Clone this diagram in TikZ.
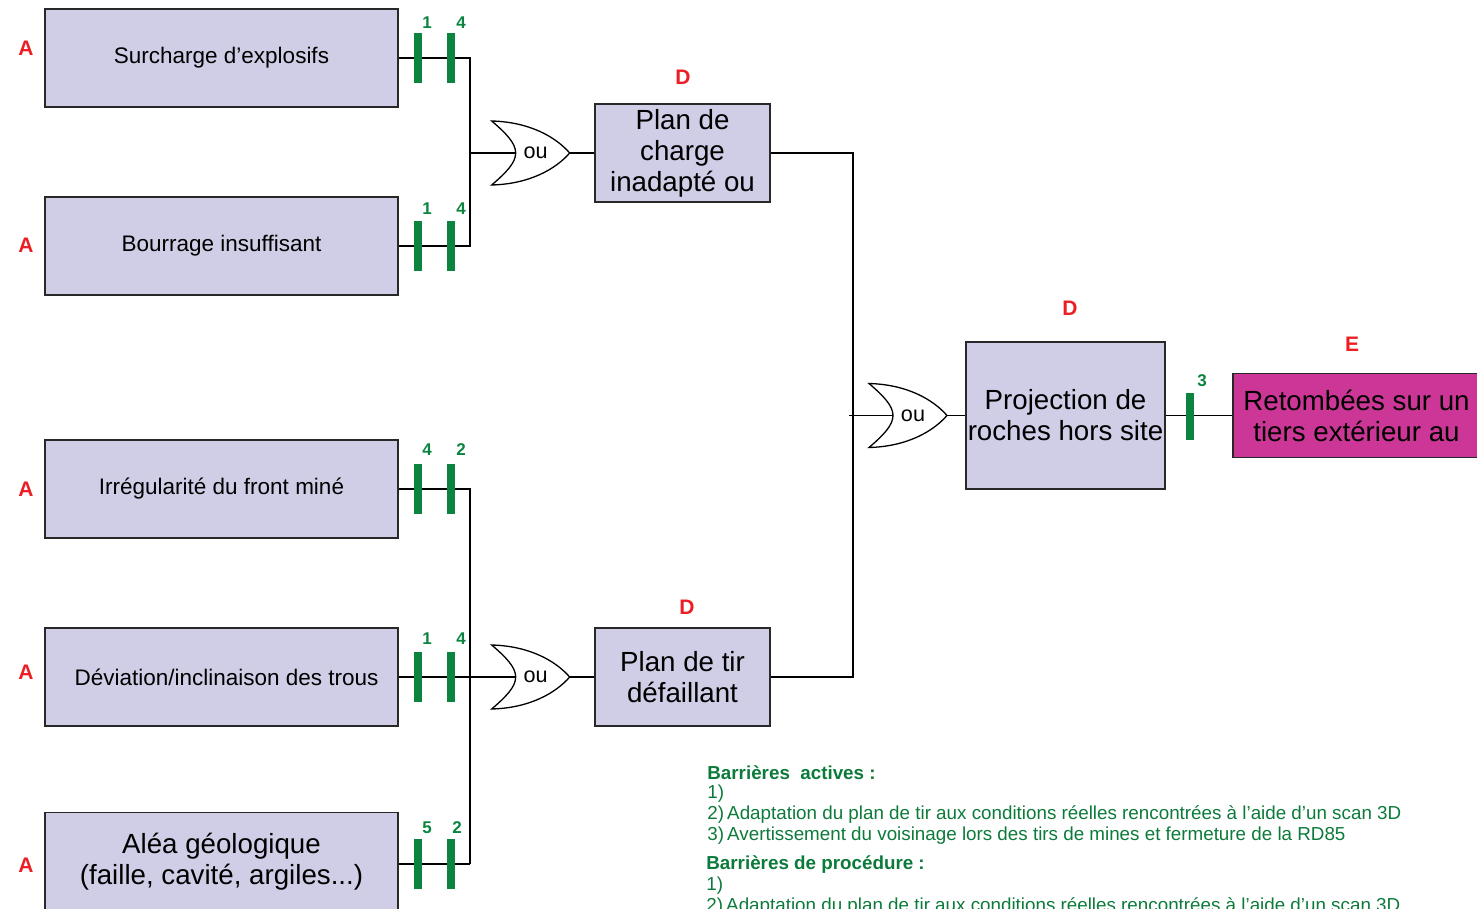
\documentclass[tikz,border=0pt]{standalone}
\usepackage{fontspec}
\setmainfont{Liberation Sans}
\definecolor{lav}{RGB}{208,206,230}
\definecolor{bgreen}{RGB}{10,132,62}
\definecolor{tgreen}{RGB}{12,122,58}
\definecolor{lred}{RGB}{236,30,36}
\definecolor{mag}{RGB}{204,54,150}
\definecolor{edge}{RGB}{40,40,40}
\newcommand\orgate[3]{%
  \draw[gateline] (#2,#3-32) .. controls (#2+14,#3-20) and (#2+24,#3-10) .. (#2+24,#3)
     .. controls (#2+24,#3+10) and (#2+14,#3+20) .. (#2,#3+32)
     .. controls (#2+38,#3+31) and (#2+64,#3+16) .. (#2+78,#3)
     .. controls (#2+64,#3-16) and (#2+38,#3-31) .. cycle;
  \coordinate (#1in) at (#2+24,#3);
  \coordinate (#1out) at (#2+78,#3);
  \node[gtext] (#1) at (#2+44,#3) {ou};}
\tikzset{
  x=0.5pt, y=-0.5pt,
  conn/.style={line width=0.65pt, black},
  gateline/.style={line width=0.65pt, black, fill=white},
  gtext/.style={inner sep=0pt, font=\fontsize{10.8}{12}\selectfont},
  cause/.style={draw=edge, fill=lav, line width=0.75pt, inner sep=0pt,
     minimum width=176.5pt, minimum height=49pt, align=center,
     font=\fontsize{11.25}{13}\selectfont},
  bigtext/.style={font=\fontsize{13.85}{15.5}\selectfont},
  event/.style={draw=edge, fill=lav, line width=0.75pt, inner sep=0pt,
     align=center, font=\fontsize{13.85}{15.5}\selectfont},
  final/.style={draw=edge, fill=mag, line width=0.75pt, inner sep=0pt,
     align=center, font=\fontsize{13.85}{15.5}\selectfont},
  barrier/.style={fill=bgreen, draw=none, minimum width=4pt, minimum height=25pt, inner sep=0pt},
  barnum/.style={text=bgreen, inner sep=0pt, font=\fontsize{8.5}{9}\selectfont\bfseries},
  lettre/.style={text=lred, inner sep=0pt, font=\fontsize{10.5}{12}\selectfont\bfseries},
  legend/.style={text=tgreen, inner sep=0pt, anchor=west, font=\fontsize{9.4}{10.5}\selectfont},
  legendb/.style={legend, font=\fontsize{9.4}{10.5}\selectfont\bfseries},
}
\begin{document}
\begin{tikzpicture}
\useasboundingbox (0,0) rectangle (1477,909);
% cause boxes
\node[cause] (b1) at (221.5,58) {Surcharge d’explosifs};
\node[cause] (b2) at (221.5,246) {Bourrage insuffisant};
\node[cause] (b3) at (221.5,489) {Irrégularité du front miné};
\node[cause] (b4) at (221.5,677) {\hspace*{5pt}Déviation/inclinaison des trous};
\node[cause, bigtext] (b5) at (221.5,861.5) {Aléa géologique\\(faille, cavité, argiles...)};
% intermediate events
\node[event, minimum width=87.5pt, minimum height=49pt] (p1) at (682.5,153) {Plan de\\charge\\inadapté ou};
\node[event, minimum width=87.5pt, minimum height=49pt] (p2) at (682.5,677) {Plan de tir\\défaillant};
\node[event, minimum width=99.5pt, minimum height=73.5pt] (pr) at (1065.5,415.5) {Projection de\\roches hors site};
\node[final, minimum width=123.5pt, minimum height=42pt] (rt) at (1356.5,415.5) {Retombées sur un\\tiers extérieur au};
% gates
\orgate{ga}{491.7}{153}
\orgate{gb}{869}{415.5}
\orgate{gc}{491.7}{677}
% junction coordinates
\coordinate (ja) at (470,58);
\coordinate (jb) at (470,864);
\coordinate (jc) at (853,153);
\coordinate (jd) at (853,677);
\coordinate (je) at (849,415.5);
% connectors
\draw[conn] (b1.east) -- (ja) |- (gain);
\draw[conn] (b2.east) -| (ja);
\draw[conn] (gaout) -- (p1.west);
\draw[conn] (b3.east) -| (jb);
\draw[conn] (jb) -- (jb -| b5.east);
\draw[conn] (b4.east) -- (gcin);
\draw[conn] (gcout) -- (p2.west);
\draw[conn] (p1.east) -- (jc) -- (jd) -- (p2.east);
\draw[conn] (je) -- (gbin);
\draw[conn] (gbout) -- (pr.west);
\draw[conn] (pr.east) -- (rt.west);
% barriers
\foreach \n/\y in {1/58, 2/246, 3/489, 4/677, 5/864} {
  \node[barrier] (ka\n) at (417.5,\y) {};
  \node[barrier] (kb\n) at (451,\y) {};
}
\node[barrier, minimum height=23.5pt] (k3) at (1189.5,416) {};
% barrier numbers
\node[barnum] at (427,23) {1};  \node[barnum] at (461,23) {4};
\node[barnum] at (427,209) {1}; \node[barnum] at (461,209) {4};
\node[barnum] at (427,450) {4}; \node[barnum] at (461,450) {2};
\node[barnum] at (427,639) {1}; \node[barnum] at (461,639) {4};
\node[barnum] at (427,828) {5}; \node[barnum] at (457,828) {2};
\node[barnum] at (1202,381) {3};
% letters
\node[lettre] at (26,48) {A};
\node[lettre] at (26,245) {A};
\node[lettre] at (26,489) {A};
\node[lettre] at (26,672) {A};
\node[lettre] at (26,865) {A};
\node[lettre] at (683,77) {D};
\node[lettre] at (687,607) {D};
\node[lettre] at (1070,308) {D};
\node[lettre] at (1352,344) {E};
% legend
\node[legendb] at (707,773) {Barrières\ \ actives :};
\node[legend] at (707,794) {1)};
\node[legend] at (707,815) {2)\,Adaptation du plan de tir aux conditions réelles rencontrées à l’aide d’un scan 3D};
\node[legend] at (707,836) {3)\,Avertissement du voisinage lors des tirs de mines et fermeture de la RD85};
\node[legendb] at (706,865) {Barrières de procédure :};
\node[legend] at (706,886) {1)};
\node[legend] at (706,907) {2)\,Adaptation du plan de tir aux conditions réelles rencontrées à l’aide d’un scan 3D};
\end{tikzpicture}
\end{document}
